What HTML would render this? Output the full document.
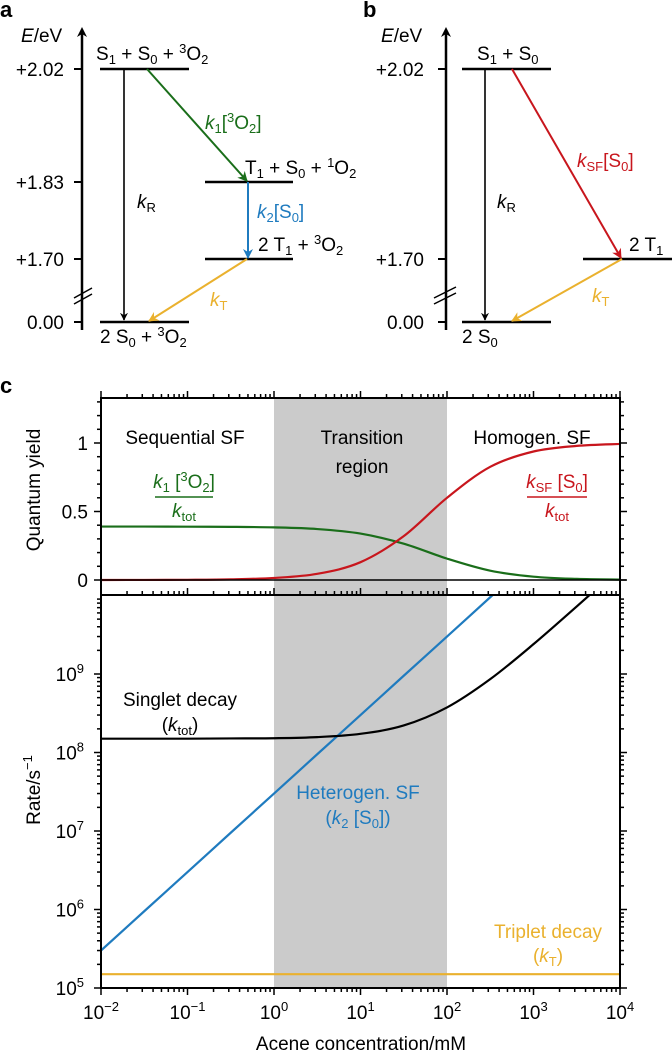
<!DOCTYPE html>
<html><head><meta charset="utf-8"><style>
html,body{margin:0;padding:0;background:#fff;}
svg{display:block;font-family:"Liberation Sans",Arial,sans-serif;}
</style></head><body>
<svg id="fig" width="672" height="1054" viewBox="0 0 672 1054" xmlns="http://www.w3.org/2000/svg">
<defs>
<marker id="ahK" viewBox="0 0 10 10" refX="9" refY="5" markerWidth="5" markerHeight="5" orient="auto"><path d="M0,0 L10,5 L0,10 L3,5z" fill="#000"/></marker>
<marker id="ahG" viewBox="0 0 10 10" refX="9" refY="5" markerWidth="5" markerHeight="5" orient="auto"><path d="M0,0 L10,5 L0,10 L3,5z" fill="#1a6e1a"/></marker>
<marker id="ahB" viewBox="0 0 10 10" refX="9" refY="5" markerWidth="5" markerHeight="5" orient="auto"><path d="M0,0 L10,5 L0,10 L3,5z" fill="#1f7bbf"/></marker>
<marker id="ahO" viewBox="0 0 10 10" refX="9" refY="5" markerWidth="5" markerHeight="5" orient="auto"><path d="M0,0 L10,5 L0,10 L3,5z" fill="#eab12e"/></marker>
<marker id="ahR" viewBox="0 0 10 10" refX="9" refY="5" markerWidth="5" markerHeight="5" orient="auto"><path d="M0,0 L10,5 L0,10 L3,5z" fill="#c8161d"/></marker>
<marker id="ahAx" viewBox="0 0 10 10" refX="5" refY="5" markerWidth="4" markerHeight="5" orient="auto"><path d="M0,0 L10,5 L0,10 L3,5z" fill="#000"/></marker>
<clipPath id="clipTop"><rect x="101" y="398" width="519" height="197"/></clipPath>
<clipPath id="clipBot"><rect x="101" y="595" width="519" height="393"/></clipPath>
</defs>

<!-- Panel a -->
<g font-size="19">
<text x="0" y="17" font-weight="bold" font-size="22">a</text>
<line x1="82" y1="330" x2="82" y2="32" stroke="#000" stroke-width="2.5" marker-end="url(#ahAx)"/>
<text x="21" y="42"><tspan font-style="italic">E</tspan>/eV</text>
<g stroke="#000" stroke-width="2">
<line x1="74" y1="69" x2="82" y2="69"/><line x1="74" y1="182" x2="82" y2="182"/><line x1="74" y1="259" x2="82" y2="259"/><line x1="74" y1="322" x2="82" y2="322"/>
<line x1="74" y1="298" x2="92" y2="288" stroke-width="1.5"/><line x1="74" y1="304" x2="92" y2="294" stroke-width="1.5"/>
</g>
<g text-anchor="end">
<text x="64" y="76">+2.02</text><text x="64" y="189">+1.83</text><text x="64" y="266">+1.70</text><text x="64" y="329">0.00</text>
</g>
<g stroke="#000" stroke-width="2.5">
<line x1="100" y1="69" x2="189" y2="69"/>
<line x1="205" y1="182" x2="293" y2="182"/>
<line x1="205" y1="259" x2="293" y2="259"/>
<line x1="100" y1="322" x2="189" y2="322"/>
</g>
<line x1="124" y1="69" x2="124" y2="320" stroke="#000" stroke-width="1.6" marker-end="url(#ahK)"/>
<line x1="147" y1="69" x2="247" y2="181" stroke="#1a6e1a" stroke-width="2" marker-end="url(#ahG)"/>
<line x1="248" y1="182" x2="248" y2="258" stroke="#1f7bbf" stroke-width="2" marker-end="url(#ahB)"/>
<line x1="247" y1="259" x2="149" y2="321" stroke="#eab12e" stroke-width="2" marker-end="url(#ahO)"/>
<text x="96" y="60">S<tspan font-size="13" dy="4">1</tspan><tspan dy="-4"> + S</tspan><tspan font-size="13" dy="4">0</tspan><tspan dy="-4"> + </tspan><tspan font-size="13" dy="-7">3</tspan><tspan dy="7">O</tspan><tspan font-size="13" dy="4">2</tspan></text>
<text x="245" y="174">T<tspan font-size="13" dy="4">1</tspan><tspan dy="-4"> + S</tspan><tspan font-size="13" dy="4">0</tspan><tspan dy="-4"> + </tspan><tspan font-size="13" dy="-7">1</tspan><tspan dy="7">O</tspan><tspan font-size="13" dy="4">2</tspan></text>
<text x="258" y="251">2 T<tspan font-size="13" dy="4">1</tspan><tspan dy="-4"> + </tspan><tspan font-size="13" dy="-7">3</tspan><tspan dy="7">O</tspan><tspan font-size="13" dy="4">2</tspan></text>
<text x="100" y="343">2 S<tspan font-size="13" dy="4">0</tspan><tspan dy="-4"> + </tspan><tspan font-size="13" dy="-7">3</tspan><tspan dy="7">O</tspan><tspan font-size="13" dy="4">2</tspan></text>
<text x="205" y="129" fill="#1a6e1a"><tspan font-style="italic">k</tspan><tspan font-size="13" dy="4">1</tspan><tspan dy="-4">[</tspan><tspan font-size="13" dy="-7">3</tspan><tspan dy="7">O</tspan><tspan font-size="13" dy="4">2</tspan><tspan dy="-4">]</tspan></text>
<text x="137" y="208"><tspan font-style="italic">k</tspan><tspan font-size="13" dy="4">R</tspan></text>
<text x="257" y="218" fill="#1f7bbf"><tspan font-style="italic">k</tspan><tspan font-size="13" dy="4">2</tspan><tspan dy="-4">[S</tspan><tspan font-size="13" dy="4">0</tspan><tspan dy="-4">]</tspan></text>
<text x="210" y="306" fill="#eab12e"><tspan font-style="italic">k</tspan><tspan font-size="13" dy="4">T</tspan></text>
</g>

<!-- Panel b -->
<g font-size="19">
<text x="363" y="17" font-weight="bold" font-size="22">b</text>
<line x1="446" y1="330" x2="446" y2="32" stroke="#000" stroke-width="2.5" marker-end="url(#ahAx)"/>
<text x="381" y="42"><tspan font-style="italic">E</tspan>/eV</text>
<g stroke="#000" stroke-width="2">
<line x1="438" y1="69" x2="446" y2="69"/><line x1="438" y1="259" x2="446" y2="259"/><line x1="438" y1="322" x2="446" y2="322"/>
<line x1="434" y1="298" x2="456" y2="287" stroke-width="1.5"/><line x1="434" y1="304" x2="456" y2="293" stroke-width="1.5"/>
</g>
<g text-anchor="end">
<text x="424" y="76">+2.02</text><text x="424" y="266">+1.70</text><text x="424" y="329">0.00</text>
</g>
<g stroke="#000" stroke-width="2.5">
<line x1="462" y1="69" x2="551" y2="69"/>
<line x1="583" y1="259" x2="672" y2="259"/>
<line x1="462" y1="322" x2="551" y2="322"/>
</g>
<line x1="485" y1="69" x2="485" y2="320" stroke="#000" stroke-width="1.6" marker-end="url(#ahK)"/>
<line x1="512" y1="69" x2="621" y2="258" stroke="#c8161d" stroke-width="2" marker-end="url(#ahR)"/>
<line x1="622" y1="259" x2="512" y2="321" stroke="#eab12e" stroke-width="2" marker-end="url(#ahO)"/>
<text x="477" y="60">S<tspan font-size="13" dy="4">1</tspan><tspan dy="-4"> + S</tspan><tspan font-size="13" dy="4">0</tspan></text>
<text x="629" y="251">2 T<tspan font-size="13" dy="4">1</tspan></text>
<text x="462" y="343">2 S<tspan font-size="13" dy="4">0</tspan></text>
<text x="577" y="167" fill="#c8161d"><tspan font-style="italic">k</tspan><tspan font-size="13" dy="4">SF</tspan><tspan dy="-4">[S</tspan><tspan font-size="13" dy="4">0</tspan><tspan dy="-4">]</tspan></text>
<text x="497" y="208"><tspan font-style="italic">k</tspan><tspan font-size="13" dy="4">R</tspan></text>
<text x="592" y="302" fill="#eab12e"><tspan font-style="italic">k</tspan><tspan font-size="13" dy="4">T</tspan></text>
</g>

<!-- Panel c -->
<text x="0" y="393" font-weight="bold" font-size="22">c</text>
<g id="chart"></g>
</svg>
<script>
// Data
const concentrations = [0.01,0.0316,0.1,0.316,1,3.16,10,31.6,100,316,1000,3162,10000];
const yieldSequential = [0.39,0.39,0.389,0.388,0.384,0.372,0.339,0.265,0.156,0.068,0.024,0.008,0.003];
const yieldHomogeneous = [0.0002,0.0005,0.0015,0.0047,0.015,0.045,0.13,0.32,0.6,0.826,0.938,0.979,0.993];
const rateSinglet = [1.5e8,1.5e8,1.5e8,1.51e8,1.52e8,1.57e8,1.73e8,2.21e8,3.75e8,8.6e8,2.4e9,7.26e9,2.25e10];
const rateHeterogen = [3e5,9.5e5,3e6,9.5e6,3e7,9.5e7,3e8,9.5e8,3e9,9.5e9,3e10,9.5e10,3e11];
const rateTriplet = [1.5e5,1.5e5,1.5e5,1.5e5,1.5e5,1.5e5,1.5e5,1.5e5,1.5e5,1.5e5,1.5e5,1.5e5,1.5e5];
const xTickExps = [-2,-1,0,1,2,3,4];
const yTopTicks = [0,0.5,1];
const yTopTickLabels = ["0","0.5","1"];
const yBotTickExps = [5,6,7,8,9];
const shadeRange = [1,100];

const NS = "http://www.w3.org/2000/svg";
const L = 101, R = 620;
const xS = c => L + (Math.log10(c) + 2) * (R - L) / 6;
const yTop = v => 580 - 137 * v;
const yBot = r => 988 - 78.5 * (Math.log10(r) - 5);
const chart = document.getElementById('chart');
function mk(tag, attrs, parent) {
  const e = document.createElementNS(NS, tag);
  for (const k in attrs) e.setAttribute(k, attrs[k]);
  (parent || chart).appendChild(e);
  return e;
}
function smooth(pts) {
  let d = `M${pts[0][0]},${pts[0][1]}`;
  for (let i = 0; i < pts.length - 1; i++) {
    const p0 = pts[Math.max(0, i - 1)], p1 = pts[i], p2 = pts[i + 1], p3 = pts[Math.min(pts.length - 1, i + 2)];
    const c1x = p1[0] + (p2[0] - p0[0]) / 6, c1y = p1[1] + (p2[1] - p0[1]) / 6;
    const c2x = p2[0] - (p3[0] - p1[0]) / 6, c2y = p2[1] - (p3[1] - p1[1]) / 6;
    d += ` C${c1x},${c1y} ${c2x},${c2y} ${p2[0]},${p2[1]}`;
  }
  return d;
}

const sh = mk('rect', {x: xS(shadeRange[0]), y: 398, width: xS(shadeRange[1]) - xS(shadeRange[0]), height: 590, fill: '#cbcbcb'});



const gTop = mk('g', {'clip-path': 'url(#clipTop)'});


const zl = mk('line', {x1: L, x2: R + 6, y1: yTop(0), y2: yTop(0), stroke: '#000', 'stroke-width': 1.5});


const pg = mk('path', {d: smooth(concentrations.map((c, i) => [xS(c), yTop(yieldSequential[i])])), fill: 'none', stroke: '#1a6e1a', 'stroke-width': 2.2}, gTop);


const pr = mk('path', {d: smooth(concentrations.map((c, i) => [xS(c), yTop(yieldHomogeneous[i])])), fill: 'none', stroke: '#c8161d', 'stroke-width': 2.2}, gTop);



const gBot = mk('g', {'clip-path': 'url(#clipBot)'});


const pt = mk('path', {d: smooth(concentrations.map((c, i) => [xS(c), yBot(rateTriplet[i])])), fill: 'none', stroke: '#eab12e', 'stroke-width': 2.2}, gBot);


const pb = mk('path', {d: smooth(concentrations.map((c, i) => [xS(c), yBot(rateHeterogen[i])])), fill: 'none', stroke: '#1f7bbf', 'stroke-width': 2.2}, gBot);


const pk = mk('path', {d: smooth(concentrations.map((c, i) => [xS(c), yBot(rateSinglet[i])])), fill: 'none', stroke: '#000', 'stroke-width': 2.2}, gBot);



const fr = mk('g', {stroke: '#000', fill: 'none', 'stroke-width': 2});


mk('rect', {x: L, y: 398, width: R - L, height: 197}, fr);
mk('rect', {x: L, y: 595, width: R - L, height: 393}, fr);

const tk = mk('g', {stroke: '#000', 'stroke-width': 1.5});


xTickExps.forEach(e => {
  const x = xS(Math.pow(10, e));
  [398, 595].forEach(y => mk('line', {x1: x, x2: x, y1: y, y2: y - 7}, tk));
  mk('line', {x1: x, x2: x, y1: 988, y2: 995}, tk);
  if (e < 4) for (let m = 2; m <= 9; m++) {
    const xm = xS(m * Math.pow(10, e));
    [398, 595].forEach(y => mk('line', {x1: xm, x2: xm, y1: y, y2: y - 4}, tk));
    mk('line', {x1: xm, x2: xm, y1: 988, y2: 992}, tk);
  }
});
for (let v = 0; v <= 1.31; v += 0.1) {
  const y = yTop(v), major = Math.abs(v * 2 - Math.round(v * 2)) < 1e-6;
  const len = major ? 7 : 4;
  mk('line', {x1: L, x2: L - len, y1: y, y2: y}, tk);
  mk('line', {x1: R, x2: R + len, y1: y, y2: y}, tk);
}
for (let e = 5; e <= 9; e++) {
  for (let m = 1; m <= 9; m++) {
    const y = yBot(m * Math.pow(10, e));
    if (y < 595) continue;
    const len = m === 1 ? 7 : 4;
    mk('line', {x1: L, x2: L - len, y1: y, y2: y}, tk);
    mk('line', {x1: R, x2: R + len, y1: y, y2: y}, tk);
  }
}

const lab = mk('g', {'font-size': 19, fill: '#000'});


xTickExps.forEach(e => {
  const t = mk('text', {x: xS(Math.pow(10, e)), y: 1019, 'text-anchor': 'middle'}, lab);
  t.innerHTML = `10<tspan font-size="13" dy="-8">${e < 0 ? '\u2212' + (-e) : e}</tspan>`;
});
yTopTicks.forEach((v, i) => {
  const t = mk('text', {x: L - 13, y: yTop(v) + 7, 'text-anchor': 'end'}, lab);
  t.textContent = yTopTickLabels[i];
});
yBotTickExps.forEach(e => {
  const t = mk('text', {x: L - 17, y: yBot(Math.pow(10, e)) + 7, 'text-anchor': 'end'}, lab);
  t.innerHTML = `10<tspan font-size="13" dy="-8">${e}</tspan>`;
});
</script>
<script>
const annotations = `
<text x="40" y="490" transform="rotate(-90 40 490)" text-anchor="middle" font-size="19">Quantum yield</text>
<text x="40" y="790" transform="rotate(-90 40 790)" text-anchor="middle" font-size="19">Rate/s<tspan font-size="13" dy="-8">\u22121</tspan></text>
<text x="361" y="1050" text-anchor="middle" font-size="19">Acene concentration/mM</text>
<text x="185" y="444" text-anchor="middle" font-size="19">Sequential SF</text>
<text x="362" y="444" text-anchor="middle" font-size="19">Transition</text>
<text x="362" y="473" text-anchor="middle" font-size="19">region</text>
<text x="532" y="444" text-anchor="middle" font-size="19">Homogen. SF</text>
<g fill="#1a6e1a" font-size="19">
<text x="184" y="488" text-anchor="middle"><tspan font-style="italic">k</tspan><tspan font-size="13" dy="4">1</tspan><tspan dy="-4"> [</tspan><tspan font-size="13" dy="-7">3</tspan><tspan dy="7">O</tspan><tspan font-size="13" dy="4">2</tspan><tspan dy="-4">]</tspan></text>
<line x1="155" x2="213" y1="497" y2="497" stroke="#1a6e1a" stroke-width="1.6"/>
<text x="184" y="517" text-anchor="middle"><tspan font-style="italic">k</tspan><tspan font-size="13" dy="4">tot</tspan></text>
</g>
<g fill="#c8161d" font-size="19">
<text x="557" y="488" text-anchor="middle"><tspan font-style="italic">k</tspan><tspan font-size="13" dy="4">SF</tspan><tspan dy="-4"> [S</tspan><tspan font-size="13" dy="4">0</tspan><tspan dy="-4">]</tspan></text>
<line x1="527" x2="587" y1="497" y2="497" stroke="#c8161d" stroke-width="1.6"/>
<text x="557" y="517" text-anchor="middle"><tspan font-style="italic">k</tspan><tspan font-size="13" dy="4">tot</tspan></text>
</g>
<text x="180" y="706" text-anchor="middle" font-size="19">Singlet decay</text>
<text x="180" y="731" text-anchor="middle" font-size="19">(<tspan font-style="italic">k</tspan><tspan font-size="13" dy="4">tot</tspan><tspan dy="-4">)</tspan></text>
<text x="358" y="799" text-anchor="middle" font-size="19" fill="#1f7bbf">Heterogen. SF</text>
<text x="358" y="824" text-anchor="middle" font-size="19" fill="#1f7bbf">(<tspan font-style="italic">k</tspan><tspan font-size="13" dy="4">2</tspan><tspan dy="-4"> [S</tspan><tspan font-size="13" dy="4">0</tspan><tspan dy="-4">])</tspan></text>
<text x="548" y="938" text-anchor="middle" font-size="19" fill="#eab12e">Triplet decay</text>
<text x="548" y="962" text-anchor="middle" font-size="19" fill="#eab12e">(<tspan font-style="italic">k</tspan><tspan font-size="13" dy="4">T</tspan><tspan dy="-4">)</tspan></text>`;
document.getElementById('chart').insertAdjacentHTML('beforeend', annotations);
</script>
</body></html>
